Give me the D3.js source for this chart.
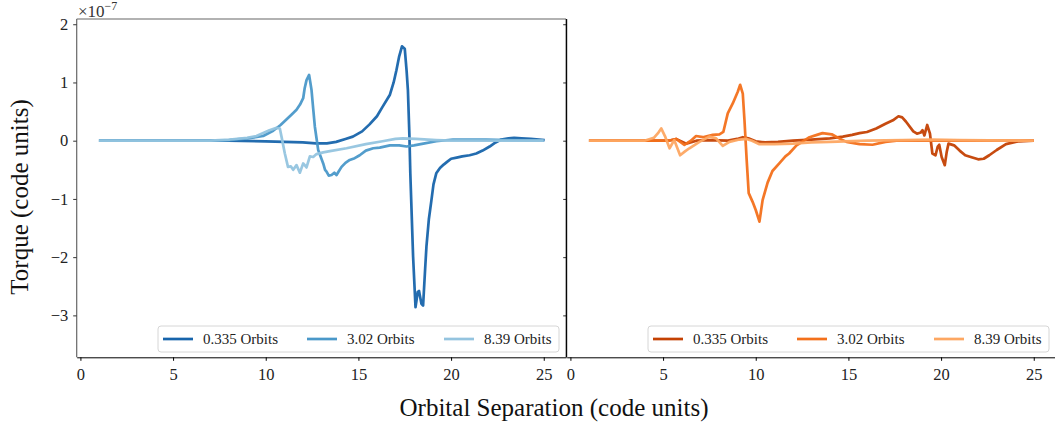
<!DOCTYPE html>
<html>
<head>
<meta charset="utf-8">
<script src="https://cdn.jsdelivr.net/npm/d3@7/dist/d3.min.js"></script>
<style>
  body { margin: 0; background: #fff; }
</style>
</head>
<body>
<svg id="chart" width="1055" height="428"></svg>
<script>
// torque profiles, units of 1e-7, against orbital separation
const orbitLabels = ['0.335 Orbits', '3.02 Orbits', '8.39 Orbits'];
const xTicks = [0, 5, 10, 15, 20, 25];
const yTicks = [-3, -2, -1, 0, 1, 2];

const leftEarly = [[1,0],[8,0],[10,-0.01],[11,-0.02],[12,-0.03],[12.7,-0.045],[13.3,-0.045],[13.8,-0.02],[14.3,0.03],
  [14.7,0.07],[15.2,0.16],[15.6,0.28],[16.0,0.42],[16.3,0.58],[16.7,0.79],[16.9,1.0],[17.05,1.21],[17.2,1.45],
  [17.35,1.62],[17.5,1.58],[17.6,1.2],[17.67,0.87],[17.75,0.1],[17.8,-0.56],[17.95,-1.99],[18.08,-2.86],[18.2,-2.6],
  [18.27,-2.58],[18.4,-2.8],[18.49,-2.83],[18.6,-2.2],[18.67,-1.82],[18.8,-1.35],[18.94,-1.02],[19.05,-0.75],
  [19.2,-0.56],[19.4,-0.47],[19.6,-0.41],[19.8,-0.36],[20,-0.31],[20.3,-0.29],[20.6,-0.27],[21,-0.25],[21.36,-0.22],
  [21.7,-0.17],[22.08,-0.1],[22.4,-0.03],[22.7,0.02],[23.1,0.04],[23.4,0.05],[23.8,0.04],[24.3,0.03],[25.05,0.01]];
const leftMid = [[1,0],[7,0],[8,0.01],[9,0.04],[9.86,0.08],[10.4,0.17],[10.8,0.27],[11.1,0.36],[11.4,0.45],[11.66,0.53],
  [11.85,0.62],[12.02,0.73],[12.1,0.9],[12.2,1.04],[12.34,1.13],[12.47,0.87],[12.56,0.55],[12.65,0.24],[12.83,-0.16],
  [13.1,-0.39],[13.2,-0.5],[13.28,-0.53],[13.4,-0.6],[13.55,-0.59],[13.7,-0.55],[13.82,-0.59],[13.95,-0.52],
  [14.09,-0.45],[14.3,-0.38],[14.53,-0.33],[14.8,-0.3],[15.07,-0.25],[15.4,-0.17],[15.8,-0.13],[16.15,-0.12],
  [16.7,-0.08],[17.2,-0.08],[17.6,-0.1],[18.0,-0.08],[18.5,-0.05],[19.2,-0.01],[20.1,0.02],[21.9,0.02],[23,0.01],[25,0]];
const leftLate = [[1,0],[7,0],[8.07,0.02],[9.0,0.05],[9.5,0.08],[10.2,0.18],[10.58,0.22],[10.76,0.21],[10.85,0.07],
  [11.03,-0.22],[11.2,-0.45],[11.35,-0.44],[11.48,-0.5],[11.66,-0.42],[11.84,-0.55],[12.02,-0.39],[12.2,-0.46],
  [12.38,-0.27],[12.56,-0.28],[12.74,-0.23],[13.1,-0.2],[13.46,-0.18],[14.36,-0.13],[15.4,-0.06],[16.3,-0.01],
  [17.0,0.03],[17.4,0.04],[18.1,0.03],[19.2,0.01],[20,0],[25,0]];

const rightEarly = [[1,0],[5.3,0],[5.7,0.03],[6.25,-0.05],[6.8,0.0],[7.5,0.01],[8.5,0.0],[9.0,0.03],[9.3,0.06],[9.6,0.04],
  [10.0,-0.01],[10.5,-0.03],[11.2,-0.02],[12,0],[13,0.02],[14,0.04],[14.7,0.07],[15.2,0.1],[15.6,0.13],[16.0,0.15],
  [16.5,0.21],[17.0,0.29],[17.4,0.35],[17.7,0.42],[17.9,0.4],[18.1,0.33],[18.5,0.16],[18.7,0.12],[18.9,0.14],
  [19.0,0.18],[19.1,0.09],[19.25,0.27],[19.4,0.12],[19.53,-0.22],[19.7,-0.25],[19.82,-0.1],[19.9,-0.07],[20.03,-0.28],
  [20.2,-0.42],[20.3,-0.2],[20.4,-0.05],[20.7,-0.08],[21.0,-0.17],[21.3,-0.25],[21.6,-0.28],[22.0,-0.32],[22.3,-0.31],
  [22.6,-0.25],[23.0,-0.16],[23.5,-0.06],[24.2,-0.01],[25,0]];
const rightMid = [[1,0],[5.3,0],[5.7,0.03],[6.15,-0.07],[6.5,0.0],[6.78,0.08],[7.14,0.06],[7.68,0.1],[8.04,0.11],
  [8.25,0.15],[8.49,0.47],[8.76,0.64],[9.03,0.84],[9.16,0.96],[9.3,0.81],[9.39,0.36],[9.51,-0.33],[9.62,-0.9],
  [9.83,-1.05],[10.0,-1.19],[10.2,-1.39],[10.37,-1.02],[10.64,-0.72],[10.9,-0.52],[11.27,-0.39],[11.6,-0.27],
  [11.8,-0.22],[12.2,-0.08],[12.5,-0.02],[12.9,0.06],[13.3,0.1],[13.6,0.13],[14.1,0.11],[14.5,0.04],[14.9,-0.02],
  [15.6,-0.06],[16.3,-0.07],[17.0,-0.02],[17.6,0.0],[25,0]];
const rightLate = [[1,0],[4.0,0],[4.5,0.05],[4.75,0.14],[4.9,0.21],[5.1,0.08],[5.35,-0.13],[5.6,0.01],[5.92,-0.25],
  [6.2,-0.18],[6.42,-0.13],[6.96,-0.02],[7.5,0.07],[7.86,0.04],[8.22,-0.09],[8.58,-0.02],[9.12,0.02],[9.5,0.03],
  [9.8,0.0],[10.2,-0.06],[11,-0.06],[12,-0.05],[13,-0.03],[14,-0.02],[16,0],[18,0.01],[19.5,0.02],[21,0.01],[25,0]];

const blues = ['#1764ab', '#4a98c9', '#94c4df'];
const oranges = ['#c44103', '#f3701b', '#fda762'];

const serif = '"Liberation Serif", "DejaVu Serif", serif';
const svg = d3.select('#chart');
const plotTop = 19;
const plotBottom = 357.3;

const y = d3.scaleLinear().domain([-3.72, 2.09]).range([plotBottom, plotTop]);

const panels = [
  { left: 76.7, right: 566, series: [leftEarly, leftMid, leftLate], colors: blues, first: true },
  { left: 566.7, right: 1056, series: [rightEarly, rightMid, rightLate], colors: oranges, first: false },
];

panels.forEach((p) => {
  const x = d3.scaleLinear().domain([-0.2, 26.2]).range([p.left, p.right]);
  const g = svg.append('g');

  const line = d3.line()
    .x(d => x(d[0]))
    .y(d => y(d[1]));

  g.selectAll('path.curve')
    .data(p.series)
    .enter()
    .append('path')
    .attr('class', 'curve')
    .attr('d', line)
    .attr('fill', 'none')
    .attr('stroke', (d, i) => p.colors[i])
    .attr('stroke-width', 2.7)
    .attr('stroke-linejoin', 'round')
    .attr('stroke-opacity', 0.95);

  // spines
  if (p.first) {
    g.append('line')
      .attr('x1', p.left).attr('x2', p.right).attr('y1', plotTop).attr('y2', plotTop)
      .attr('stroke', '#666').attr('stroke-width', 1.2);
  }
  g.append('line')
    .attr('x1', p.left).attr('x2', p.left).attr('y1', plotTop).attr('y2', plotBottom)
    .attr('stroke', p.first ? '#666' : '#000').attr('stroke-width', p.first ? 1.2 : 1);

  const xAxis = g.append('g')
    .attr('transform', `translate(0,${plotBottom})`)
    .call(d3.axisBottom(x).tickValues(xTicks).tickSize(3.5).tickSizeOuter(0).tickPadding(7));
  xAxis.select('.domain').attr('stroke', '#000');
  xAxis.selectAll('.tick text').attr('fill', '#222')
    .style('font-family', serif).style('font-size', '16.5px');

  const yAxis = g.append('g')
    .attr('transform', `translate(${p.left},0)`)
    .call(d3.axisLeft(y).tickValues(yTicks).tickFormat(d3.format('d'))
      .tickSize(3.5).tickSizeOuter(0).tickPadding(5));
  yAxis.select('.domain').remove();
  yAxis.selectAll('.tick line').attr('stroke', '#333');
  if (p.first) {
    yAxis.selectAll('.tick text').attr('fill', '#222')
      .style('font-family', serif).style('font-size', '16.5px');
  } else {
    yAxis.selectAll('.tick text').remove();
  }

  // legend
  const lx = p.right - 7 - 401;
  const legend = g.append('g').attr('transform', `translate(${lx},326)`);
  legend.append('rect')
    .attr('width', 401).attr('height', 26).attr('rx', 3)
    .attr('fill', '#fff').attr('fill-opacity', 0.85)
    .attr('stroke', '#d6d6d6').attr('stroke-width', 1);
  const item = legend.selectAll('g.item')
    .data(orbitLabels)
    .enter()
    .append('g')
    .attr('class', 'item')
    .attr('transform', (d, i) => `translate(${[5, 149, 286][i]},13)`);
  item.append('line')
    .attr('x1', 0).attr('x2', 30)
    .attr('stroke', (d, i) => p.colors[i]).attr('stroke-width', 2.7);
  item.append('text')
    .attr('x', 40).attr('dy', '0.33em')
    .attr('fill', '#222')
    .style('font-family', serif).style('font-size', '15px')
    .text(d => d);
});

// shared border between panels
svg.append('line')
  .attr('x1', 566.3).attr('x2', 566.3).attr('y1', plotTop).attr('y2', plotBottom)
  .attr('stroke', '#000').attr('stroke-width', 1.2);

svg.append('text')
  .attr('x', 78).attr('y', 17)
  .attr('fill', '#333')
  .style('font-family', serif).style('font-size', '17px')
  .html('×10<tspan dy="-7" style="font-size:12px">−7</tspan>');

svg.append('text')
  .attr('transform', 'translate(28,197) rotate(-90)')
  .attr('text-anchor', 'middle')
  .attr('fill', '#111')
  .style('font-family', serif).style('font-size', '25px')
  .text('Torque (code units)');

svg.append('text')
  .attr('x', 554).attr('y', 416)
  .attr('text-anchor', 'middle')
  .attr('fill', '#111')
  .style('font-family', serif).style('font-size', '25px')
  .text('Orbital Separation (code units)');
</script>
</body>
</html>
